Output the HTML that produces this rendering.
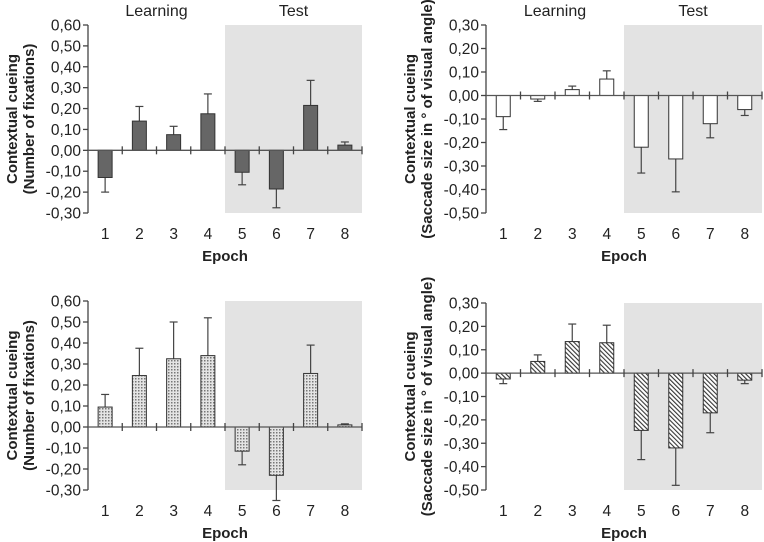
<!DOCTYPE html>
<html><head><meta charset="utf-8">
<style>
html,body{margin:0;padding:0;background:#fff;}
svg{display:block;font-family:"Liberation Sans",Arial,sans-serif;}
</style></head>
<body>
<svg id="chart" width="764" height="542" viewBox="0 0 764 542" xmlns="http://www.w3.org/2000/svg">
<defs>
<pattern id="dots" width="3" height="3" patternUnits="userSpaceOnUse">
<rect width="3" height="3" fill="#e4e4e4"/><rect width="1.5" height="1.5" fill="#777"/>
</pattern>
<pattern id="hatch" width="3.2" height="3.2" patternUnits="userSpaceOnUse" patternTransform="rotate(-45)">
<rect width="3.2" height="3.2" fill="#fff"/><rect width="1.1" height="3.2" fill="#333"/>
</pattern>
</defs>
</svg>
<script>
const epochs = ["1","2","3","4","5","6","7","8"];
const fixTicks = [0.6,0.5,0.4,0.3,0.2,0.1,0,-0.1,-0.2,-0.3];
const sacTicks = [0.3,0.2,0.1,0,-0.1,-0.2,-0.3,-0.4,-0.5];
const fixTopVals = [-0.13,0.14,0.075,0.175,-0.105,-0.185,0.215,0.025];
const fixTopErr  = [-0.20,0.21,0.115,0.27,-0.165,-0.275,0.335,0.04];
const sacTopVals = [-0.09,-0.015,0.025,0.07,-0.22,-0.27,-0.12,-0.06];
const sacTopErr  = [-0.145,-0.025,0.04,0.105,-0.33,-0.41,-0.18,-0.085];
const fixBotVals = [0.095,0.245,0.325,0.34,-0.115,-0.23,0.255,0.01];
const fixBotErr  = [0.155,0.375,0.50,0.52,-0.18,-0.35,0.39,0.015];
const sacBotVals = [-0.025,0.05,0.135,0.13,-0.245,-0.32,-0.17,-0.03];
const sacBotErr  = [-0.045,0.078,0.21,0.205,-0.37,-0.48,-0.255,-0.045];

const svg = document.getElementById('chart');
const NS = 'http://www.w3.org/2000/svg';
function mk(tag, attrs, parent){
  const e = document.createElementNS(NS, tag);
  for (const k in attrs) e.setAttribute(k, attrs[k]);
  (parent||svg).appendChild(e); return e;
}
function fmt(v){ return v.toFixed(2).replace('.', ','); }

function panel(p){
  const g = mk('g', {});
  
  
  const ymax = p.ticks[0], ymin = p.ticks[p.ticks.length-1];
  const y = v => p.top + (ymax - v) / (ymax - ymin) * (p.bottom - p.top);
  const cw = (p.xEnd - p.x0) / epochs.length;
  const xc = i => p.x0 + cw * (i + 0.5);
  const sh = mk('rect', {x: p.x0 + cw*4, y: p.top, width: p.xEnd - (p.x0 + cw*4), height: p.bottom - p.top, fill: '#e3e3e3'}, g);
  
  
  if (p.phase) {
    const l = mk('text', {x: p.x0 + cw*2, y: 16, 'text-anchor':'middle', 'font-size':16, fill:'#222'}, g);
    l.textContent = 'Learning';
    
    
    const t = mk('text', {x: p.x0 + cw*6, y: 16, 'text-anchor':'middle', 'font-size':16, fill:'#222'}, g);
    t.textContent = 'Test';
    
    
  }
  mk('line', {x1:p.x0, y1:p.top, x2:p.x0, y2:p.bottom, stroke:'#444', 'stroke-width':1.3}, g);
  p.ticks.forEach(v => {
    mk('line', {x1:p.x0-5, y1:y(v), x2:p.x0, y2:y(v), stroke:'#444', 'stroke-width':1.3}, g);
    const tl = mk('text', {x:p.x0-7, y:y(v)+5.5, 'text-anchor':'end', 'font-size':15.5, fill:'#222'}, g);
    tl.textContent = fmt(v);
    
    
  });
  p.vals.forEach((v, i) => {
    const bw = 14, y0 = y(0), yv = y(v), ye = y(p.err[i]);
    mk('line', {x1:xc(i), y1:yv, x2:xc(i), y2:ye, stroke:'#444', 'stroke-width':1.2}, g);
    mk('line', {x1:xc(i)-4, y1:ye, x2:xc(i)+4, y2:ye, stroke:'#444', 'stroke-width':1.2}, g);
    const b = mk('rect', {x:xc(i)-bw/2, y:Math.min(y0,yv), width:bw, height:Math.max(1,Math.abs(yv-y0)), fill:p.fill, stroke:'#333', 'stroke-width':1}, g);
    
    
    const xl = mk('text', {x:xc(i), y:p.bottom + 26, 'text-anchor':'middle', 'font-size':15.5, fill:'#222'}, g);
    xl.textContent = epochs[i];
    
    
  });
  mk('line', {x1:p.x0, y1:y(0), x2:p.xEnd, y2:y(0), stroke:'#555', 'stroke-width':1.3}, g);
  for (let i = 1; i <= epochs.length; i++) {
    mk('line', {x1:p.x0+cw*i, y1:y(0)-4, x2:p.x0+cw*i, y2:y(0)+4, stroke:'#444', 'stroke-width':1.3}, g);
  }
  const xt = mk('text', {x:p.x0 + cw*4, y:p.bottom + 48, 'text-anchor':'middle', 'font-size':15, 'font-weight':'bold', fill:'#222'}, g);
  xt.textContent = 'Epoch';
  
  
  const cy = (p.top + p.bottom)/2;
  const yt = mk('text', {transform:`translate(${p.titleX},${cy}) rotate(-90)`, 'text-anchor':'middle', 'font-size':15, 'font-weight':'bold', fill:'#222'}, g);
  
  
  const t1 = mk('tspan', {x:0, y:0}, yt); t1.textContent = 'Contextual cueing';
  const t2 = mk('tspan', {x:0, y:17}, yt); t2.textContent = p.title2;
}

panel({name:'fixations-top-panel', x0:88, xEnd:362, top:25, bottom:213, ticks:fixTicks, vals:fixTopVals, err:fixTopErr, fill:'#666', phase:true, titleX:17, title2:'(Number of fixations)'});
panel({name:'saccade-top-panel', x0:486, xEnd:762, top:25, bottom:213, ticks:sacTicks, vals:sacTopVals, err:sacTopErr, fill:'#fff', phase:true, titleX:415, title2:'(Saccade size in ° of visual angle)'});
panel({name:'fixations-bottom-panel', x0:88, xEnd:362, top:301, bottom:490, ticks:fixTicks, vals:fixBotVals, err:fixBotErr, fill:'url(#dots)', phase:false, titleX:17, title2:'(Number of fixations)'});
panel({name:'saccade-bottom-panel', x0:486, xEnd:762, top:303, bottom:490, ticks:sacTicks, vals:sacBotVals, err:sacBotErr, fill:'url(#hatch)', phase:false, titleX:415, title2:'(Saccade size in ° of visual angle)'});
</script>
</body></html>
